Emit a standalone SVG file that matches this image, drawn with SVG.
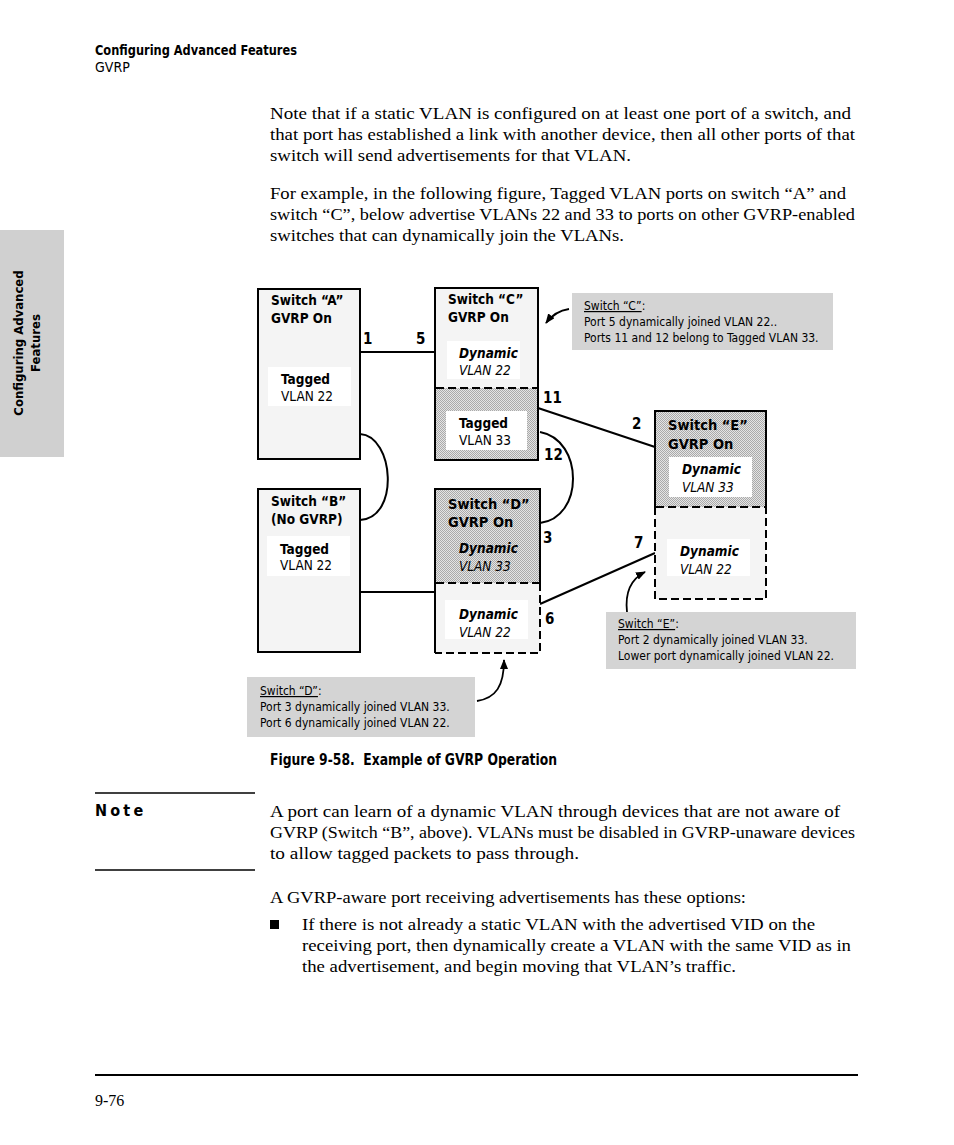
<svg xmlns="http://www.w3.org/2000/svg" width="954" height="1145" viewBox="0 0 954 1145">
<defs>
<pattern id="hatch" width="2" height="2" patternUnits="userSpaceOnUse">
<rect width="2" height="2" fill="#e4e4e4"/>
<rect width="1" height="1" fill="#aaaaaa"/>
<rect x="1" y="1" width="1" height="1" fill="#aaaaaa"/>
</pattern>
<marker id="ah" markerWidth="10" markerHeight="8" refX="9" refY="4" orient="auto" markerUnits="userSpaceOnUse">
<path d="M0,0 L10,4 L0,8 z" fill="#000"/>
</marker>
<style>
.body{font-family:"Liberation Serif",serif;font-size:16px;fill:#000}
.n{font-family:"Liberation Sans Narrow","DejaVu Sans Condensed","Liberation Sans",sans-serif;fill:#000}
.b{font-weight:bold}
.t{font-size:13.5px;font-weight:bold}
.t2{font-size:14.5px;font-weight:bold}
.v{font-size:13.5px}
.bi{font-size:13.5px;font-weight:bold;font-style:italic}
.i{font-size:13.5px;font-style:italic}
.c{font-size:12px}
.p{font-size:15px;font-weight:bold}
.box{stroke:#000;stroke-width:2}
.light{fill:#f4f4f4}
.white{fill:#fff}
.dash{stroke:#000;stroke-width:2;stroke-dasharray:8 4;fill:none}
.ln{stroke:#000;stroke-width:2;fill:none}
.cal{fill:#d4d4d4}
.arr{stroke:#000;stroke-width:1.8;fill:none;marker-end:url(#ah)}
</style>
</defs>

<g id="header">
<text class="n b" x="95" y="55" font-size="14" textLength="202" lengthAdjust="spacingAndGlyphs">Configuring Advanced Features</text>
<text class="n" x="95" y="72" font-size="14">GVRP</text>
</g>

<g id="side-tab">
<rect x="0" y="230" width="64" height="227" fill="#d0d0d0"/>
<text class="n b" font-size="13" text-anchor="middle" transform="translate(23,343) rotate(-90)">Configuring Advanced</text>
<text class="n b" font-size="13" text-anchor="middle" transform="translate(40,343) rotate(-90)">Features</text>
</g>

<g id="intro">
<text class="body" x="270" y="119" textLength="581" lengthAdjust="spacingAndGlyphs">Note that if a static VLAN is configured on at least one port of a switch, and</text>
<text class="body" x="270" y="140" textLength="585" lengthAdjust="spacingAndGlyphs">that port has established a link with another device, then all other ports of that</text>
<text class="body" x="270" y="161" textLength="361" lengthAdjust="spacingAndGlyphs">switch will send advertisements for that VLAN.</text>
<text class="body" x="270" y="199" textLength="576" lengthAdjust="spacingAndGlyphs">For example, in the following figure, Tagged VLAN ports on switch “A” and</text>
<text class="body" x="270" y="220" textLength="585" lengthAdjust="spacingAndGlyphs">switch “C”, below advertise VLANs 22 and 33 to ports on other GVRP-enabled</text>
<text class="body" x="270" y="241" textLength="354" lengthAdjust="spacingAndGlyphs">switches that can dynamically join the VLANs.</text>
</g>

<g id="connectors">
<line class="ln" x1="360" y1="352" x2="435" y2="352"/>
<path class="ln" d="M360,434 C394,436 400,518 360,520"/>
<line class="ln" x1="360" y1="592" x2="435" y2="592"/>
<line class="ln" x1="538" y1="408" x2="655" y2="447"/>
<path class="ln" d="M540,432 C584,440 584,518 540,523"/>
<line class="ln" x1="540" y1="604" x2="655" y2="553"/>
<path class="arr" d="M569,309 Q555,311 546,323"/>
<path class="arr" d="M627,612 C625,594 629,580 645,572"/>
<path class="arr" d="M477,701 C496,698 504,686 504,660"/>
</g>

<g id="switch-a">
<rect class="box light" x="258" y="289" width="102" height="170"/>
<rect class="white" x="268" y="367" width="83" height="39"/>
<text class="n t" x="271" y="305">Switch “A”</text>
<text class="n t" x="271" y="323">GVRP On</text>
<text class="n t" x="281" y="384">Tagged</text>
<text class="n v" x="281" y="401">VLAN 22</text>
</g>

<g id="switch-b">
<rect class="box light" x="258" y="489" width="102" height="163"/>
<rect class="white" x="267" y="536" width="83" height="40"/>
<text class="n t" x="271" y="506">Switch “B”</text>
<text class="n t" x="271" y="524">(No GVRP)</text>
<text class="n t" x="280" y="554">Tagged</text>
<text class="n v" x="280" y="570">VLAN 22</text>
</g>

<g id="switch-c">
<rect class="light" x="435" y="288" width="103" height="100"/>
<rect fill="url(#hatch)" x="435" y="388" width="103" height="72"/>
<rect class="box" fill="none" x="435" y="288" width="103" height="172"/>
<line class="dash" x1="436" y1="388" x2="537" y2="388"/>
<rect class="white" x="447" y="341" width="73" height="38"/>
<rect class="white" x="446" y="411" width="81" height="39"/>
<text class="n t" x="448" y="304">Switch “C”</text>
<text class="n t" x="448" y="322">GVRP On</text>
<text class="n bi" x="459" y="358">Dynamic</text>
<text class="n i" x="459" y="375">VLAN 22</text>
<text class="n t" x="459" y="428">Tagged</text>
<text class="n v" x="459" y="445">VLAN 33</text>
</g>

<g id="switch-d">
<rect fill="url(#hatch)" x="435" y="489" width="105" height="94"/>
<rect class="light" x="435" y="583" width="105" height="70"/>
<path class="ln" d="M435,653 L435,489 L540,489 L540,583"/>
<line class="dash" x1="436" y1="583" x2="539" y2="583"/>
<path class="dash" d="M540,583 L540,653 L435,653"/>
<rect class="white" x="445" y="600" width="83" height="39"/>
<text class="n t2" x="448" y="509">Switch “D”</text>
<text class="n t2" x="448" y="527">GVRP On</text>
<text class="n bi" x="459" y="553">Dynamic</text>
<text class="n i" x="459" y="571">VLAN 33</text>
<text class="n bi" x="459" y="619">Dynamic</text>
<text class="n i" x="459" y="637">VLAN 22</text>
</g>

<g id="switch-e">
<rect fill="url(#hatch)" x="655" y="411" width="111" height="96"/>
<rect class="light" x="655" y="507" width="111" height="92"/>
<path class="ln" d="M655,507 L655,411 L766,411 L766,507"/>
<line class="dash" x1="656" y1="507" x2="765" y2="507"/>
<path class="dash" d="M655,507 L655,599 L766,599 L766,507"/>
<rect class="white" x="669" y="457" width="83" height="40"/>
<rect class="white" x="667" y="539" width="83" height="37"/>
<text class="n t2" x="668" y="430">Switch “E”</text>
<text class="n t2" x="668" y="449">GVRP On</text>
<text class="n bi" x="682" y="474">Dynamic</text>
<text class="n i" x="682" y="492">VLAN 33</text>
<text class="n bi" x="680" y="556">Dynamic</text>
<text class="n i" x="680" y="574">VLAN 22</text>
</g>

<g id="port-labels">
<text class="n p" x="363" y="344">1</text>
<text class="n p" x="416" y="344">5</text>
<text class="n p" x="543" y="403">11</text>
<text class="n p" x="544" y="460">12</text>
<text class="n p" x="543" y="543">3</text>
<text class="n p" x="545" y="624">6</text>
<text class="n p" x="632" y="429">2</text>
<text class="n p" x="634" y="548">7</text>
</g>

<g id="callout-c">
<rect class="cal" x="572" y="293" width="261" height="57"/>
<text class="n c" x="584" y="310"><tspan text-decoration="underline">Switch “C”</tspan>:</text>
<text class="n c" x="584" y="326">Port 5 dynamically joined  VLAN 22..</text>
<text class="n c" x="584" y="342">Ports 11 and 12 belong to Tagged VLAN 33.</text>
</g>

<g id="callout-e">
<rect class="cal" x="606" y="612" width="250" height="57"/>
<text class="n c" x="618" y="628"><tspan text-decoration="underline">Switch “E”</tspan>:</text>
<text class="n c" x="618" y="644">Port 2 dynamically joined VLAN 33.</text>
<text class="n c" x="618" y="660">Lower port dynamically joined VLAN 22.</text>
</g>

<g id="callout-d">
<rect class="cal" x="247" y="677" width="228" height="60"/>
<text class="n c" x="260" y="695"><tspan text-decoration="underline">Switch “D”</tspan>:</text>
<text class="n c" x="260" y="711">Port 3 dynamically joined VLAN 33.</text>
<text class="n c" x="260" y="727">Port 6 dynamically joined VLAN 22.</text>
</g>

<g id="caption">
<text class="n b" x="270" y="765" font-size="15" textLength="287" lengthAdjust="spacingAndGlyphs" xml:space="preserve">Figure 9-58.  Example of GVRP Operation</text>
</g>

<g id="note">
<line x1="95" y1="793" x2="255" y2="793" stroke="#000" stroke-width="1.5"/>
<line x1="95" y1="870" x2="255" y2="870" stroke="#000" stroke-width="1.5"/>
<text class="n b" x="95" y="816" font-size="16" letter-spacing="3.2">Note</text>
<text class="body" x="270" y="817" textLength="570" lengthAdjust="spacingAndGlyphs">A port can learn of a dynamic VLAN through devices that are not aware of</text>
<text class="body" x="270" y="838" textLength="585" lengthAdjust="spacingAndGlyphs">GVRP (Switch “B”, above). VLANs must be disabled in GVRP-unaware devices</text>
<text class="body" x="270" y="859" textLength="309" lengthAdjust="spacingAndGlyphs">to allow tagged packets to pass through.</text>
</g>

<g id="options">
<text class="body" x="270" y="903" textLength="476" lengthAdjust="spacingAndGlyphs">A GVRP-aware port receiving advertisements has these options:</text>
<rect x="270" y="920" width="9" height="9" fill="#000"/>
<text class="body" x="302" y="930" textLength="513" lengthAdjust="spacingAndGlyphs">If there is not already a static VLAN with the advertised VID on the</text>
<text class="body" x="302" y="951" textLength="549" lengthAdjust="spacingAndGlyphs">receiving port, then dynamically create a VLAN with the same VID as in</text>
<text class="body" x="302" y="972" textLength="434" lengthAdjust="spacingAndGlyphs">the advertisement, and begin moving that VLAN’s traffic.</text>
</g>

<g id="footer">
<line x1="95" y1="1075" x2="858" y2="1075" stroke="#000" stroke-width="2"/>
<text class="body" x="95" y="1106">9-76</text>
</g>
</svg>
